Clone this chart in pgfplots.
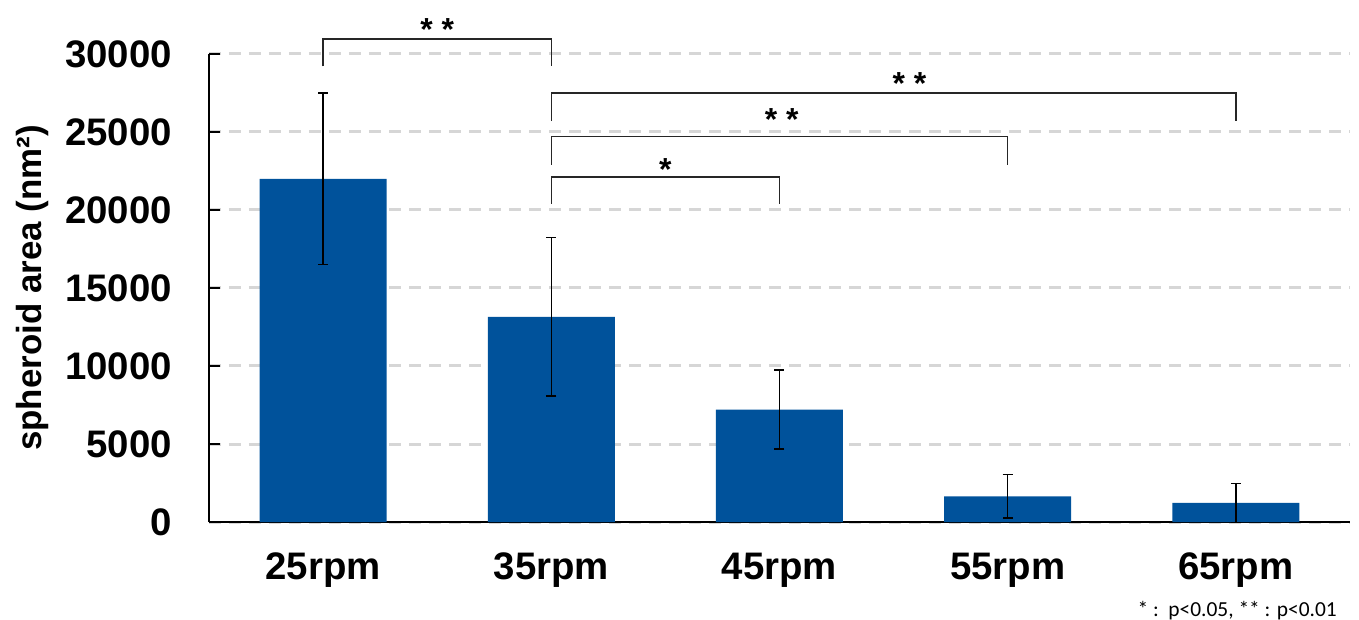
\documentclass[border=0pt]{standalone}
\usepackage{pgfplots}
\pgfplotsset{compat=1.18}
\usepackage{fontspec}
\setmainfont{Liberation Sans}
\newfontfamily\calib{Carlito}
\definecolor{barblue}{RGB}{0,82,155}
\definecolor{gridgray}{RGB}{214,214,214}
\pgfplotstableread{
x y e
0 22000 5500
1 13150 5080
2 7200 2530
3 1650 1380
4 1220 1260
}\spheroid
\begin{document}
\begin{tikzpicture}
\begin{axis}[
 width=1141bp, height=468bp, scale only axis,
 xmin=-0.5, xmax=4.5, ymin=0, ymax=30000,
 axis x line=bottom, axis y line=left,
 axis line style={-, line width=1.5bp, black},
 clip=false,
 xtick={0,...,4}, xticklabels={25rpm,35rpm,45rpm,55rpm,65rpm},
 xtick style={draw=none},
 ytick={0,5000,...,30000},
 ymajorgrids,
 major grid style={gridgray, line width=3bp, dash pattern=on 12bp off 8bp},
 ytick style={black, line width=1.5bp}, major tick length=11bp, tick align=inside,
 scaled y ticks=false,
 /pgf/number format/set thousands separator={},
 /pgf/number format/assume math mode=true,
 ticklabel style={font=\bfseries\fontsize{38.5}{41}\selectfont, inner sep=0pt},
 yticklabel style={xshift=-37bp},
 xticklabel style={yshift=-31bp},
 ylabel={spheroid area (nm²)},
 ylabel style={font=\bfseries\fontsize{35}{38}\selectfont, at={(axis description cs:-0.155,0.5)}, anchor=center},
]
\addplot[ybar, bar width=127bp, fill=barblue, draw=none,
  error bars/.cd, y dir=both, y explicit,
  error bar style={line width=1.5bp, black},
  error mark options={rotate=90, mark size=5bp, line width=1.5bp, black}]
  table[x=x, y=y, y error=e] {\spheroid};
\draw[line width=1.5bp, black!85] (axis cs:0,29200) -- (axis cs:0,30960) -- (axis cs:1,30960) -- (axis cs:1,29200);
\draw[line width=1.5bp, black!85] (axis cs:1,20400) -- (axis cs:1,22100) -- (axis cs:2,22100) -- (axis cs:2,20400);
\draw[line width=1.5bp, black!85] (axis cs:1,22900) -- (axis cs:1,24700) -- (axis cs:3,24700) -- (axis cs:3,22900);
\draw[line width=1.5bp, black!85] (axis cs:1,25700) -- (axis cs:1,27500) -- (axis cs:4,27500) -- (axis cs:4,25700);
\node[font=\bfseries\fontsize{32}{34}\selectfont, anchor=base, inner sep=0pt] at (axis cs:0.5,30850) {* *};
\node[font=\bfseries\fontsize{32}{34}\selectfont, anchor=base, inner sep=0pt] at (axis cs:1.5,21900) {*};
\node[font=\bfseries\fontsize{32}{34}\selectfont, anchor=base, inner sep=0pt] at (axis cs:2.01,25100) {* *};
\node[font=\bfseries\fontsize{32}{34}\selectfont, anchor=base, inner sep=0pt] at (axis cs:2.57,27400) {* *};
\end{axis}
\node[font=\calib\fontsize{21.5}{23}\selectfont, anchor=base east, inner sep=0pt] at (1128bp,-94bp) {* :\ \ p<0.05, ** : p<0.01};
\pgfresetboundingbox
\path (-209bp,-98bp) rectangle (1150bp,522bp);
\end{tikzpicture}
\end{document}
